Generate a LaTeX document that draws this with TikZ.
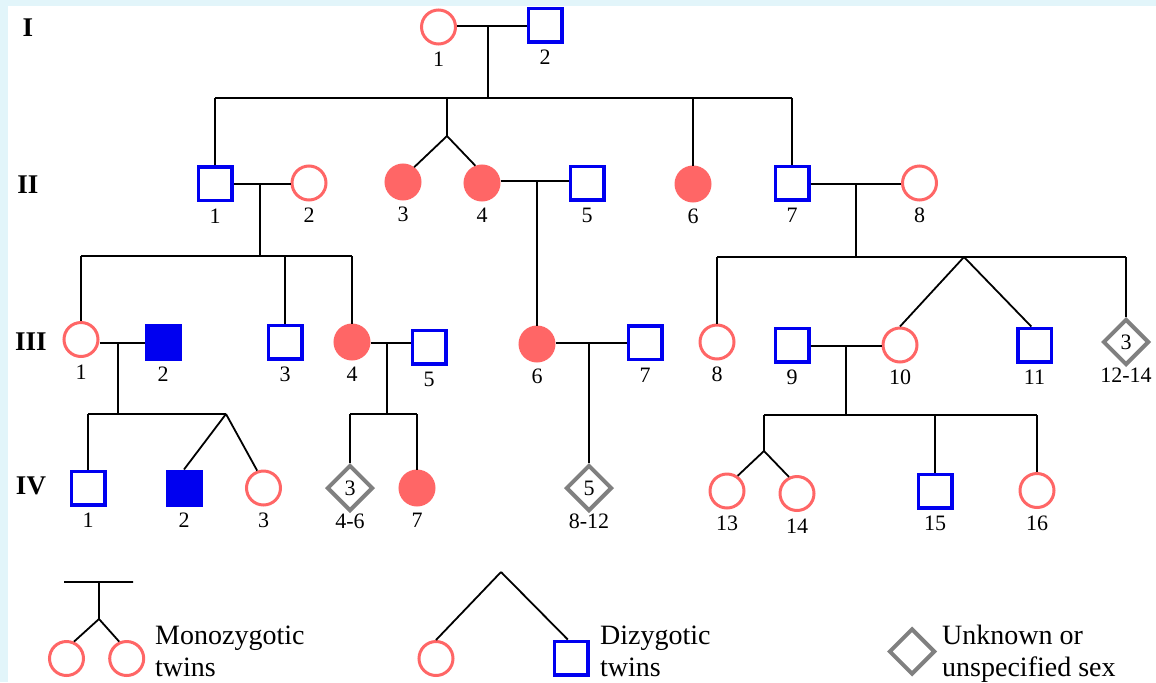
\documentclass[tikz,border=0pt]{standalone}
\usepackage{fontspec}
\setmainfont{Liberation Serif}
\usepackage{tikz}
\usetikzlibrary{shapes.geometric}
\definecolor{fem}{RGB}{255,102,102}
\definecolor{mal}{RGB}{0,0,240}
\definecolor{unk}{RGB}{128,128,128}
\definecolor{bgcyan}{RGB}{226,245,250}
\newcommand{\numfont}{\rmfamily\fontsize{22}{22}\selectfont}
\newcommand{\genfont}{\rmfamily\fontsize{27}{27}\selectfont\bfseries}
\newcommand{\keyfont}{\rmfamily\fontsize{28}{32}\selectfont}
\tikzset{
    %Define style for persons
    female/.style={
           circle,
           draw=fem, line width=3pt,
           minimum size=34pt,
           inner sep=0pt,
           fill=white},
    male/.style={
           rectangle,
           draw=mal, line width=3.5pt,
           minimum size=33.5pt,
           inner sep=0pt,
           fill=white},
    unknown/.style={
           diamond,
           draw=unk, line width=4pt,
           minimum size=46pt,
           inner sep=0pt,
           font=\numfont,
           fill=white},
    affF/.style={female, fill=fem},
    affM/.style={male, fill=mal},
    % Define style for texts
    num/.style={font=\numfont, inner sep=0pt},
    nb/.style={label={[num]below:#1}},
    nbd/.style={label={[num, label distance=0.5pt]below:#1}},
    gen/.style={font=\genfont, inner sep=0pt},
    key/.style={font=\keyfont, anchor=north west, align=left, inner sep=0pt},
    % Define line style
    line/.style={draw=black, line width=1.8pt}
}
\begin{document}
\begin{tikzpicture}[x=1pt,y=-1pt,label distance=6.5pt]
\fill[bgcyan] (0,0) rectangle (1156,682);
\fill[white] (8,6) rectangle (1156,682);

% generations
\node[gen] (gI) at (28,28) {I};
\node[gen] (gII) at (28,185) {II};
\node[gen] (gIII) at (31,342) {III};
\node[gen] (gIV) at (31,486) {IV};

% generation I
\node[female, label distance=11pt, nb=1] (I1) at (438.5,27) {};
\node[male, label distance=11pt, nb=2] (I2) at (545,25) {};
\coordinate (mI) at (488,26);
\coordinate (sII) at (488,98);
\draw[line] (I1.east |- mI) -- (I2.west |- mI);
\draw[line] (mI) -- (sII);

% generation II
\node[male, nb=1] (II1) at (215,183.5) {};
\node[female, nb=2] (II2) at (309,183) {};
\node[affF, nb=3] (II3) at (403,182) {};
\node[affF, nb=4] (II4) at (482,183) {};
\node[male, nb=5] (II5) at (587,183) {};
\node[affF, nb=6] (II6) at (693,184) {};
\node[male, nb=7] (II7) at (792,183) {};
\node[female, nb=8] (II8) at (919.5,183) {};
\coordinate (tII) at (447,136);
\draw[line] (II1 |- sII) -- (II7 |- sII);
\draw[line] (II1 |- sII) -- (II1.north);
\draw[line] (tII |- sII) -- (tII) (tII) -- (II3.53) (tII) -- (II4.111);
\draw[line] (II6 |- sII) -- (II6.north);
\draw[line] (II7 |- sII) -- (II7.north);
\coordinate (mIIa) at (260,184);
\coordinate (mIIb) at (537,181);
\coordinate (mIIc) at (856,184);
\draw[line] (II1.east |- mIIa) -- (II2.west |- mIIa);
\draw[line] (II4.east |- mIIb) -- (II5.west |- mIIb);
\draw[line] (II7.east |- mIIc) -- (II8.west |- mIIc);

% generation III
\coordinate (sIIIa) at (260,256);
\draw[line] (mIIa) -- (sIIIa);
\node[female, nb=1] (III1) at (81,339.5) {};
\node[affM, nb=2] (III2) at (163,342) {};
\node[male, nb=3] (III3) at (285,342) {};
\node[affF, nb=4] (III4) at (352,342) {};
\node[male, nb=5] (III5) at (429,347) {};
\node[affF, nb=6] (III6) at (537,344) {};
\node[male, nb=7] (III7) at (645,342.5) {};
\draw[line] (III1 |- sIIIa) -- (III4 |- sIIIa);
\draw[line] (III1 |- sIIIa) -- (III1.north);
\draw[line] (III3 |- sIIIa) -- (III3.north);
\draw[line] (III4 |- sIIIa) -- (III4.north);
\draw[line] (mIIb) -- (III6.north);

\coordinate (sIIIb) at (856,257);
\draw[line] (mIIc) -- (sIIIb);
\node[female, nb=8] (III8) at (717,342) {};
\node[male, nb=9] (III9) at (792,345) {};
\node[female, nb=10] (III10) at (900,345) {};
\node[male, nb=11] (III11) at (1034.5,345) {};
\node[unknown, nbd=12-14] (III12) at (1126,342) {3};
\coordinate (tIII) at (964,257);
\draw[line] (III8 |- sIIIb) -- (III12 |- sIIIb);
\draw[line] (III8 |- sIIIb) -- (III8.north);
\draw[line] (III12 |- sIIIb) -- (III12.north);
\draw[line] (tIII) -- (III10.north) (tIII) -- (III11.100);

\coordinate (mIIIa) at (118,343);
\coordinate (mIIIb) at (387,343);
\coordinate (mIIIc) at (589,343);
\coordinate (mIIId) at (846,346);
\draw[line] (III1.east |- mIIIa) -- (III2.west |- mIIIa);
\draw[line] (III4.east |- mIIIb) -- (III5.west |- mIIIb);
\draw[line] (III6.east |- mIIIc) -- (III7.west |- mIIIc);
\draw[line] (III9.east |- mIIId) -- (III10.west |- mIIId);

% generation IV
\coordinate (sIVa) at (118,414);
\draw[line] (mIIIa) -- (sIVa);
\node[male, nb=1] (IV1) at (88,488) {};
\node[affM, nb=2] (IV2) at (184,488) {};
\node[female, nb=3] (IV3) at (263.5,488) {};
\coordinate (tIVa) at (226,414);
\draw[line] (IV1 |- sIVa) -- (tIVa);
\draw[line] (IV1 |- sIVa) -- (IV1.north);
\draw[line] (tIVa) -- (IV2.north) (tIVa) -- (IV3.110);

\coordinate (sIVb) at (387,414);
\draw[line] (mIIIb) -- (sIVb);
\node[unknown, nbd=4-6] (IV4) at (350,488) {3};
\node[affF, nb=7] (IV7) at (417,488) {};
\draw[line] (IV4 |- sIVb) -- (IV7 |- sIVb);
\draw[line] (IV4 |- sIVb) -- (IV4.north);
\draw[line] (IV7 |- sIVb) -- (IV7.north);

\node[unknown, nbd=8-12] (IV8) at (589,488) {5};
\draw[line] (mIIIc) -- (IV8.north);

\coordinate (sIVc) at (846,415);
\draw[line] (mIIId) -- (sIVc);
\node[female, nb=13] (IV13) at (727,491) {};
\node[female, nb=14] (IV14) at (797,493.5) {};
\node[male, nb=15] (IV15) at (935,491) {};
\node[female, nb=16] (IV16) at (1037,490.5) {};
\coordinate (tIVc) at (764,451);
\draw[line] (tIVc |- sIVc) -- (IV16 |- sIVc);
\draw[line] (tIVc |- sIVc) -- (tIVc) (tIVc) -- (IV13.55) (tIVc) -- (IV14.116);
\draw[line] (IV15 |- sIVc) -- (IV15.north);
\draw[line] (IV16 |- sIVc) -- (IV16.north);

% legend
\coordinate (kMZl) at (64,582);
\coordinate (kMZr) at (133,582);
\coordinate (kMZ) at (99,582);
\coordinate (tMZ) at (99,619);
\node[female] (kMZ1) at (66.5,658.5) {};
\node[female] (kMZ2) at (126.7,658.5) {};
\draw[line] (kMZl) -- (kMZr) (kMZ) -- (tMZ) (tMZ) -- (kMZ1.66) (tMZ) -- (kMZ2.114);
\node[key] (kMZt) at (155,626) {Monozygotic\\twins};

\coordinate (tDZ) at (501,572);
\node[female] (kDZ1) at (436,658.5) {};
\node[male] (kDZ2) at (571,658) {};
\draw[line] (tDZ) -- (kDZ1.north) (tDZ) -- (kDZ2.100);
\node[key] (kDZt) at (600,626) {Dizygotic\\twins};

\node[unknown] (kUN) at (912,651.5) {};
\node[key] (kUNt) at (942,625) {Unknown or\\unspecified sex};
\end{tikzpicture}
\end{document}
